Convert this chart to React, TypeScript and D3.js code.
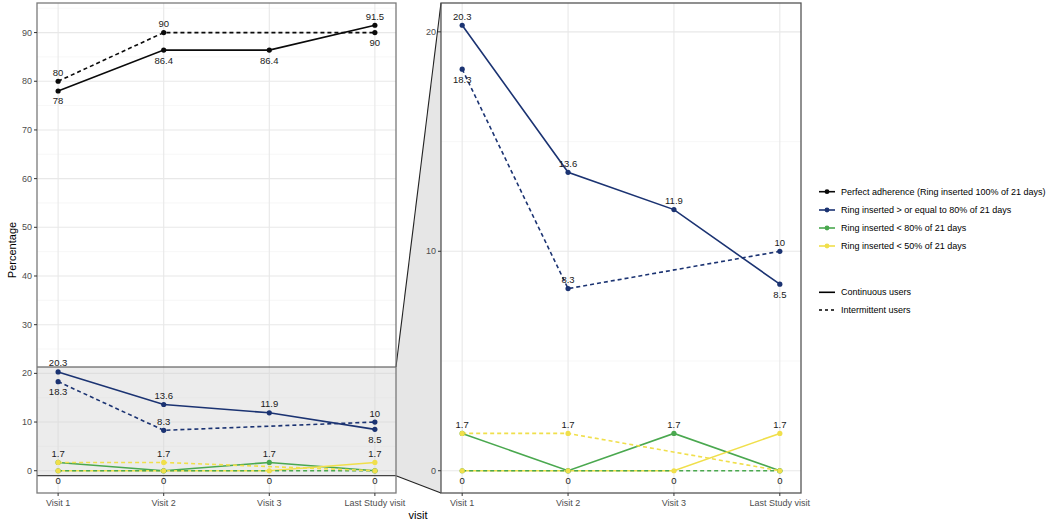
import * as d3 from "d3";

const visits = ["Visit 1", "Visit 2", "Visit 3", "Last Study visit"];

// continuous users
const perfectCont = [78, 86.4, 86.4, 91.5];
const ge80Cont = [20.3, 13.6, 11.9, 8.5];
const lt80Cont = [1.7, 0, 1.7, 0];
const lt50Cont = [0, 0, 0, 1.7];

// intermittent users (no visit 3)
const perfectInter = [80, 90, null, 90];
const ge80Inter = [18.3, 8.3, null, 10];
const lt80Inter = [0, 0, null, 0];
const lt50Inter = [1.7, 1.7, null, 0];

// where each value label sits relative to its point
const perfectContSide = ["below", "below", "below", "above"];
const perfectInterSide = ["above", "above", null, "below"];
const ge80ContSide = ["above", "above", "above", "below"];
const ge80InterSide = ["below", "above", null, "above"];

const colourNames = [
  "Perfect adherence (Ring inserted 100% of 21 days)",
  "Ring inserted > or equal to 80% of 21 days",
  "Ring inserted < 80% of 21 days",
  "Ring inserted < 50% of 21 days",
];
const linetypeNames = ["Continuous users", "Intermittent users"];

const palette = ["#0a0a0a", "#1b3372", "#4aa84f", "#f0df4b"];
const FONT = "'Liberation Sans', Arial, Helvetica, sans-serif";

type Side = string | null;
type Series = { colour: number; dashed: boolean; values: (number | null)[]; sides: Side[] };

const autoSide = (vals: (number | null)[]) => vals.map((v) => (v == null ? null : v > 0 ? "above" : "below"));

const series: Series[] = [
  { colour: 0, dashed: false, values: perfectCont, sides: perfectContSide },
  { colour: 1, dashed: false, values: ge80Cont, sides: ge80ContSide },
  { colour: 2, dashed: false, values: lt80Cont, sides: autoSide(lt80Cont) },
  { colour: 3, dashed: false, values: lt50Cont, sides: autoSide(lt50Cont) },
  { colour: 0, dashed: true, values: perfectInter, sides: perfectInterSide },
  { colour: 1, dashed: true, values: ge80Inter, sides: ge80InterSide },
  { colour: 2, dashed: true, values: lt80Inter, sides: autoSide(lt80Inter) },
  { colour: 3, dashed: true, values: lt50Inter, sides: autoSide(lt50Inter) },
];

const W = 1054;
const H = 524;
const top = 3;
const bottom = 493;
const leftP = { x0: 37, x1: 396 };
const rightP = { x0: 441, x1: 801 };

const allVals = series.flatMap((s) => s.values).filter((v): v is number => v != null);
const zoomVals = series.filter((s) => s.colour > 0).flatMap((s) => s.values).filter((v): v is number => v != null);

function expanded(vals: number[]) {
  const [lo, hi] = d3.extent(vals) as [number, number];
  const pad = (hi - lo) * 0.05;
  return [lo - pad, hi + pad];
}

const yMain = d3.scaleLinear().domain(expanded(allVals)).range([bottom, top]);
const yZoom = d3.scaleLinear().domain(expanded(zoomVals)).range([bottom, top]);
const xMain = d3.scalePoint<string>().domain(visits).range([leftP.x0, leftP.x1]).padding(0.2);
const xZoom = d3.scalePoint<string>().domain(visits).range([rightP.x0, rightP.x1]).padding(0.2);

function Panel({
  id,
  x,
  y,
  p,
  majors,
}: {
  id: string;
  x: d3.ScalePoint<string>;
  y: d3.ScaleLinear<number, number>;
  p: { x0: number; x1: number };
  majors: number[];
}) {
  const [d0, d1] = y.domain();
  const minors = d3.range(Math.ceil(d0 / 5) * 5, d1, 5).filter((v) => v % 10 !== 0);
  return (
    <g>
      <defs>
        <clipPath id={id}>
          <rect x={p.x0} y={top} width={p.x1 - p.x0} height={bottom - top} />
        </clipPath>
      </defs>
      <rect x={p.x0} y={top} width={p.x1 - p.x0} height={bottom - top} fill="white" />
      {minors.map((v) => (
        <line key={"mn" + v} x1={p.x0} x2={p.x1} y1={y(v)} y2={y(v)} stroke="#f2f2f2" strokeWidth={0.6} />
      ))}
      {majors.map((v) => (
        <line key={"mj" + v} x1={p.x0} x2={p.x1} y1={y(v)} y2={y(v)} stroke="#e8e8e8" strokeWidth={1.1} />
      ))}
      {visits.map((v) => (
        <line key={v} x1={x(v)} x2={x(v)} y1={top} y2={bottom} stroke="#e8e8e8" strokeWidth={1.1} />
      ))}
    </g>
  );
}

function Marks({
  id,
  x,
  y,
}: {
  id: string;
  x: d3.ScalePoint<string>;
  y: d3.ScaleLinear<number, number>;
}) {
  const line = d3
    .line<[string, number]>()
    .x((d) => x(d[0]) as number)
    .y((d) => y(d[1]));
  const pts = (s: Series) =>
    s.values.map((v, i) => [visits[i], v] as [string, number | null]).filter((d) => d[1] != null) as [string, number][];
  const pointOrder = [...series].sort((a, b) => a.colour - b.colour);
  const [d0, d1] = y.domain();

  // one label per distinct (visit, value, side); labels outside the panel are dropped
  const seen = new Set<string>();
  const labels: { visit: string; value: number; side: Side }[] = [];
  series.forEach((s) =>
    s.values.forEach((v, j) => {
      if (v == null || v < d0 || v > d1) return;
      const k = `${j}|${v}|${s.sides[j]}`;
      if (seen.has(k)) return;
      seen.add(k);
      labels.push({ visit: visits[j], value: v, side: s.sides[j] });
    })
  );

  return (
    <g>
      <g clipPath={`url(#${id})`}>
        {series.map((s, i) => (
          <path
            key={"l" + i}
            d={line(pts(s)) || ""}
            fill="none"
            stroke={palette[s.colour]}
            strokeWidth={1.6}
            strokeDasharray={s.dashed ? "4,3" : undefined}
          />
        ))}
        {pointOrder.map((s, i) =>
          pts(s).map((d, j) => <circle key={`p${i}-${j}`} cx={x(d[0])} cy={y(d[1])} r={2.6} fill={palette[s.colour]} />)
        )}
      </g>
      {labels.map((l, i) => (
        <text
          key={`t${i}`}
          x={x(l.visit)}
          y={y(l.value) + (l.side === "above" ? -9 : 10)}
          textAnchor="middle"
          dominantBaseline="central"
          fontSize={9.5}
          fill="#1a1a1a"
        >
          {l.value}
        </text>
      ))}
    </g>
  );
}

function YAxis({ y, x0, ticks }: { y: d3.ScaleLinear<number, number>; x0: number; ticks: number[] }) {
  return (
    <g>
      {ticks.map((t) => (
        <g key={t}>
          <line x1={x0 - 3} x2={x0} y1={y(t)} y2={y(t)} stroke="#333" strokeWidth={1} />
          <text x={x0 - 5} y={y(t)} textAnchor="end" dominantBaseline="central" fontSize={9} fill="#4d4d4d">
            {t}
          </text>
        </g>
      ))}
    </g>
  );
}

function XAxis({ x }: { x: d3.ScalePoint<string> }) {
  return (
    <g>
      {visits.map((v) => (
        <g key={v}>
          <line x1={x(v)} x2={x(v)} y1={bottom} y2={bottom + 3} stroke="#333" strokeWidth={1} />
          <text x={x(v)} y={bottom + 10} textAnchor="middle" dominantBaseline="central" fontSize={9} fill="#4d4d4d">
            {v}
          </text>
        </g>
      ))}
    </g>
  );
}

export default function App() {
  const [z0, z1] = yZoom.domain();
  const bandTop = yMain(z1);
  const bandBot = yMain(z0);
  const legendX = 819;
  const colourRows = [191.7, 210, 228, 246];
  const typeRows = [292.3, 310];
  return (
    <svg
      width={W}
      height={H}
      viewBox={`0 0 ${W} ${H}`}
      style={{ position: "absolute", left: 0, top: 0, background: "white" }}
      fontFamily={FONT}
    >
      <Panel id="cl" x={xMain} y={yMain} p={leftP} majors={d3.range(0, 100, 10)} />
      <Panel id="cr" x={xZoom} y={yZoom} p={rightP} majors={[0, 10, 20]} />

      {/* zoom indicator */}
      <rect
        x={leftP.x0}
        y={bandTop}
        width={leftP.x1 - leftP.x0}
        height={bandBot - bandTop}
        fill="#d4d4d4"
        fillOpacity={0.45}
      />
      <polygon
        points={`${leftP.x1},${bandTop} ${rightP.x0},${top} ${rightP.x0},${bottom} ${leftP.x1},${bandBot}`}
        fill="#e6e6e6"
      />
      <line x1={leftP.x0} x2={leftP.x1} y1={bandTop} y2={bandTop} stroke="#444" strokeWidth={1.1} />
      <line x1={leftP.x0} x2={leftP.x1} y1={bandBot} y2={bandBot} stroke="#444" strokeWidth={1.1} />
      <line x1={leftP.x1} x2={rightP.x0} y1={bandTop} y2={top} stroke="#222" strokeWidth={1.1} />
      <line x1={leftP.x1} x2={rightP.x0} y1={bandBot} y2={bottom} stroke="#222" strokeWidth={1.1} />

      <Marks id="cl" x={xMain} y={yMain} />
      <Marks id="cr" x={xZoom} y={yZoom} />

      <rect x={leftP.x0} y={top} width={leftP.x1 - leftP.x0} height={bottom - top} fill="none" stroke="#7a7a7a" strokeWidth={1.3} />
      <rect x={rightP.x0} y={top} width={rightP.x1 - rightP.x0} height={bottom - top} fill="none" stroke="#555" strokeWidth={1.3} />

      <YAxis y={yMain} x0={leftP.x0} ticks={d3.range(0, 100, 10)} />
      <YAxis y={yZoom} x0={rightP.x0} ticks={[0, 10, 20]} />
      <XAxis x={xMain} />
      <XAxis x={xZoom} />

      <text x={418} y={515} textAnchor="middle" dominantBaseline="central" fontSize={11} fill="#000">
        visit
      </text>
      <text
        transform={`translate(12,250) rotate(-90)`}
        textAnchor="middle"
        dominantBaseline="central"
        fontSize={11}
        fill="#000"
      >
        Percentage
      </text>

      {colourNames.map((name, i) => (
        <g key={name}>
          <line x1={legendX} x2={legendX + 16} y1={colourRows[i]} y2={colourRows[i]} stroke={palette[i]} strokeWidth={1.6} />
          <circle cx={legendX + 8} cy={colourRows[i]} r={2.4} fill={palette[i]} />
          <text x={841} y={colourRows[i]} dominantBaseline="central" fontSize={9} fill="#000">
            {name}
          </text>
        </g>
      ))}
      {linetypeNames.map((name, i) => (
        <g key={name}>
          <line
            x1={legendX}
            x2={legendX + 16}
            y1={typeRows[i]}
            y2={typeRows[i]}
            stroke="#000"
            strokeWidth={1.6}
            strokeDasharray={i === 1 ? "3,3" : undefined}
          />
          <text x={841} y={typeRows[i]} dominantBaseline="central" fontSize={9} fill="#000">
            {name}
          </text>
        </g>
      ))}
    </svg>
  );
}
